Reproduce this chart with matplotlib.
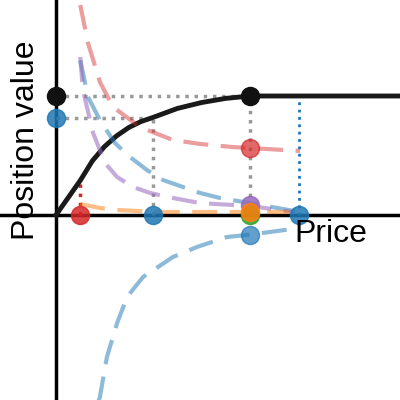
import matplotlib.pyplot as plt
import numpy as np

plt.rcParams['font.family'] = ['Liberation Sans', 'DejaVu Sans']

# price grid (lower bound 1, current 4, upper 8, marker 10)
p_low, p_now, p_high, p_mark = 1.0, 4.0, 8.0, 10.0

# position value (black)
val_x = [0, 0.5, 1.0, 1.5, 2.0, 2.5, 3.0, 3.5, 4.0, 5.0, 6.0, 7.0, 8.0, 14.5]
val_y = [0, 0.145, 0.29, 0.455, 0.575, 0.665, 0.735, 0.785, 0.82, 0.895, 0.945, 0.98, 1.0, 1.0]

# dashed curves
red_x = [1.0, 1.32, 1.81, 2.35, 3.46, 4.82, 5.94, 7.30, 8.0, 10.06]
red_y = [1.765, 1.445, 1.118, 0.908, 0.739, 0.630, 0.597, 0.571, 0.563, 0.538]

purple_x = [1.0, 1.11, 1.53, 2.02, 2.52, 3.18, 3.88, 4.62, 5.94, 7.30, 8.0, 9.77]
purple_y = [1.328, 1.05, 0.689, 0.437, 0.319, 0.235, 0.185, 0.151, 0.10, 0.084, 0.076, 0.025]

blue_up_x = [1.0, 1.32, 1.81, 2.43, 3.05, 3.75, 4.41, 5.94, 6.76, 8.0, 10.06]
blue_up_y = [1.30, 0.992, 0.798, 0.605, 0.487, 0.378, 0.294, 0.185, 0.143, 0.10, 0.025]

blue_lo_x = [1.6, 1.81, 2.10, 2.52, 2.93, 3.59, 4.82, 5.81, 7.05, 8.0, 10.06]
blue_lo_y = [-1.65, -1.53, -1.193, -0.908, -0.689, -0.521, -0.353, -0.269, -0.185, -0.165, -0.109]

orange_x = [1.0, 1.81, 2.52, 3.34, 4.29, 5.94, 8.0, 9.65]
orange_y = [0.092, 0.059, 0.042, 0.034, 0.025, 0.025, 0.025, 0.025]

v_max = 1.0
v_now = 0.815

fig = plt.figure(figsize=(4, 4), dpi=100)
ax = fig.add_axes([0, 0, 1, 1])
ax.set_xlim(-56 / 24.25, 344 / 24.25)
ax.set_ylim(-185 / 119, 215 / 119)

for s in ['top', 'right']:
    ax.spines[s].set_visible(False)
for s in ['left', 'bottom']:
    ax.spines[s].set_position(('data', 0))
    ax.spines[s].set_linewidth(2.5)
    ax.spines[s].set_zorder(1)
ax.set_xticks([])
ax.set_yticks([])

# guide lines
gray = '#999999'
ax.plot([0, p_high], [v_max, v_max], ':', color=gray, lw=2.5)
ax.plot([0, p_now], [v_now, v_now], ':', color=gray, lw=2.5)
ax.plot([p_now, p_now], [0, v_now], ':', color=gray, lw=2.5)
ax.plot([p_high, p_high], [0, v_max], ':', color=gray, lw=2.5)
ax.plot([p_low, p_low], [0, 0.29], ':', color='tab:red', lw=2.5)
ax.plot([p_mark, p_mark], [0, v_max], ':', color='tab:blue', lw=2)

# position value
ax.plot(val_x, val_y, color='#1a1a1a', lw=3.5, zorder=3)

dash = (6, 3)
ax.plot(red_x, red_y, '--', color='tab:red', alpha=0.45, lw=3, dashes=dash, zorder=4)
ax.plot(blue_up_x, blue_up_y, '--', color='tab:blue', alpha=0.5, lw=3, dashes=dash, zorder=4)
ax.plot(purple_x, purple_y, '--', color='tab:purple', alpha=0.55, lw=3, dashes=dash, zorder=4)
ax.plot(blue_lo_x, blue_lo_y, '--', color='tab:blue', alpha=0.5, lw=3, dashes=dash, zorder=4)
ax.plot(orange_x, orange_y, '--', color='tab:orange', alpha=0.5, lw=3, dashes=dash, zorder=4)

# markers
ms = 13
ax.plot([0, p_high], [v_max, v_max], 'o', color='#111111', ms=ms, zorder=6)
ax.plot([0], [v_now], 'o', color='tab:blue', alpha=0.85, ms=ms, zorder=6)
ax.plot([p_low], [0], 'o', color='tab:red', alpha=0.85, ms=ms, zorder=6)
ax.plot([p_now], [0], 'o', color='tab:blue', alpha=0.85, ms=ms, zorder=6)
ax.plot([p_high], [0.563], 'o', color='tab:red', alpha=0.7, ms=ms, zorder=6)
ax.plot([p_high], [-0.165], 'o', color='tab:blue', alpha=0.7, ms=ms, zorder=6)
ax.plot([p_high], [0.084], 'o', color='tab:purple', alpha=0.85, ms=ms, zorder=6)
ax.plot([p_high], [0.0], 'o', color='tab:green', alpha=0.85, ms=ms, zorder=6)
ax.plot([p_high], [0.025], 'o', color='tab:orange', alpha=0.85, ms=ms, zorder=6)
ax.plot([p_mark], [0], 'o', color='tab:blue', alpha=0.85, ms=ms, zorder=7)

fig.text(26 / 400, 1 - 140 / 400, 'Position value', rotation=90, fontsize=23,
         ha='center', va='center')
fig.text(331 / 400, 1 - 234 / 400, 'Price', fontsize=23, ha='center', va='center')

fig.savefig('out.png', dpi=100)
